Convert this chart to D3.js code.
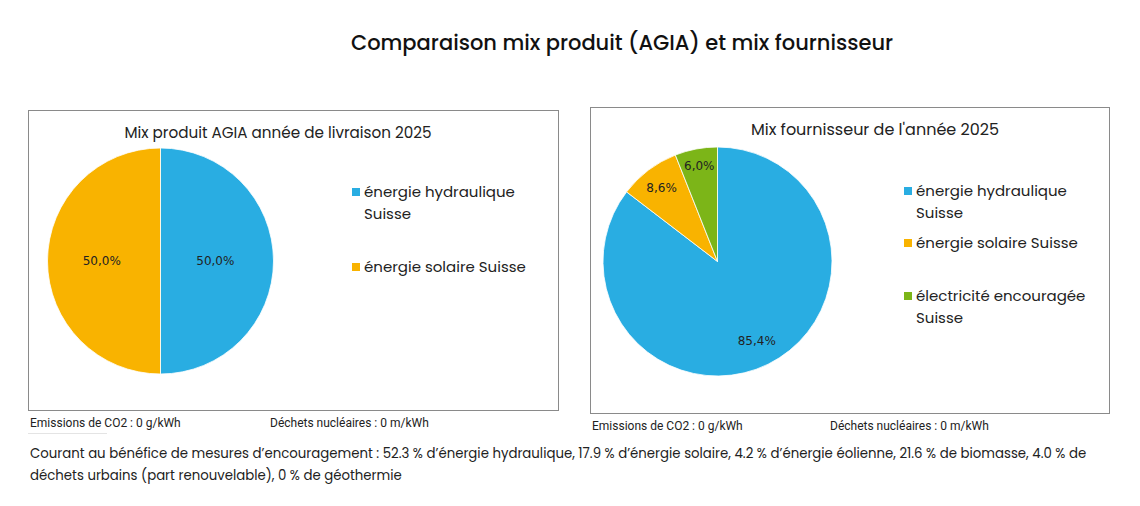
<!DOCTYPE html>
<html>
<head>
<meta charset="utf-8">
<script src="https://cdn.jsdelivr.net/npm/d3@7"></script>
<style>
  body { margin: 0; background: #fff; }
  svg { display: block; }
</style>
</head>
<body>
<svg width="1140" height="506"></svg>
<script>
// main data
const mainTitle = "Comparaison mix produit (AGIA) et mix fournisseur";

const productTitle = "Mix produit AGIA année de livraison 2025";
const productLabels = [["énergie hydraulique", "Suisse"], ["énergie solaire Suisse"]];
const productValues = [50.0, 50.0];

const supplierTitle = "Mix fournisseur de l'année 2025";
const supplierLabels = [["énergie hydraulique", "Suisse"], ["énergie solaire Suisse"], ["électricité encouragée", "Suisse"]];
const supplierValues = [85.4, 8.6, 6.0];

const co2Text = "Emissions de CO2 : 0 g/kWh";
const wasteText = "Déchets nucléaires : 0 m/kWh";
const footLines = [
  "Courant au bénéfice de mesures d’encouragement : 52.3 % d’énergie hydraulique, 17.9 % d’énergie solaire, 4.2 % d’énergie éolienne, 21.6 % de biomasse, 4.0 % de",
  "déchets urbains (part renouvelable), 0 % de géothermie"
];

const colors = ["#29ADE2", "#F9B300", "#7CB518"];
const uiFont = "Poppins, Inter, 'Noto Sans', sans-serif";
const labelFont = "'DejaVu Sans', Verdana, sans-serif";

const svg = d3.select("svg");

svg.append("text")
  .attr("x", 622).attr("y", 50)
  .attr("text-anchor", "middle")
  .attr("font-family", uiFont)
  .attr("font-weight", 500)
  .attr("font-size", "21px")
  .attr("fill", "#111")
  .text(mainTitle);

// one chart panel: box, title, pie, legend, notes under it
function drawPanel(opt) {
  const g = svg.append("g");

  g.append("rect")
    .attr("x", opt.box[0] + 0.5).attr("y", opt.box[1] + 0.5)
    .attr("width", opt.box[2]).attr("height", opt.box[3])
    .attr("fill", "#fff").attr("stroke", "#8a8a8a").attr("stroke-width", 1);

  g.append("text")
    .attr("x", opt.titleX).attr("y", opt.box[1] + 28)
    .attr("text-anchor", "middle")
    .attr("font-family", uiFont)
    .attr("font-size", opt.titleSize)
    .attr("fill", "#222")
    .text(opt.title);

  const pie = d3.pie().sort(null).value(d => d);
  const arcs = pie(opt.values);
  const arc = d3.arc().innerRadius(0).outerRadius(opt.r);

  const pg = g.append("g").attr("transform", `translate(${opt.cx},${opt.cy})`);
  pg.selectAll("path")
    .data(arcs).enter().append("path")
    .attr("d", arc)
    .attr("fill", (d, i) => colors[i])
    .attr("stroke", "#fff")
    .attr("stroke-width", 0.8);

  // data labels, pushed outward per slice like the office chart does
  pg.selectAll("text")
    .data(arcs).enter().append("text")
    .attr("transform", (d, i) => {
      const p = d3.arc().innerRadius(0).outerRadius(opt.r * opt.labelR[i]).centroid(d);
      return `translate(${p[0]},${p[1]})`;
    })
    .attr("text-anchor", "middle")
    .attr("dy", "0.35em")
    .attr("font-family", labelFont)
    .attr("font-size", "12px")
    .attr("fill", "#222")
    .text(d => d.value.toFixed(1).replace(".", ",") + "%");

  // legend
  const lg = g.append("g");
  opt.labels.forEach((lines, i) => {
    const y = opt.legendY[i];
    lg.append("rect")
      .attr("x", opt.legendX).attr("y", y - 9)
      .attr("width", 8).attr("height", 8)
      .attr("fill", colors[i]);
    lines.forEach((ln, j) => {
      lg.append("text")
        .attr("x", opt.legendX + 12).attr("y", y + j * 22)
        .attr("font-family", uiFont)
        .attr("font-size", "15px")
        .attr("fill", "#222")
        .text(ln);
    });
  });

  // notes
  g.append("text")
    .attr("x", opt.box[0] + 2).attr("y", opt.box[1] + opt.box[3] + 17)
    .attr("font-family", "Roboto, 'Open Sans', sans-serif")
    .attr("font-size", "12px")
    .attr("fill", "#222")
    .text(co2Text);
  g.append("text")
    .attr("x", opt.wasteX).attr("y", opt.box[1] + opt.box[3] + 17)
    .attr("font-family", "Roboto, 'Open Sans', sans-serif")
    .attr("font-size", "12px")
    .attr("fill", "#222")
    .text(wasteText);
}

drawPanel({
  box: [28, 110, 530, 300],
  title: productTitle, titleX: 278, titleSize: "15.2px",
  values: productValues, labels: productLabels,
  cx: 160.5, cy: 261, r: 113,
  labelR: [0.97, 1.04],
  legendX: 352, legendY: [197, 272],
  wasteX: 270
});

drawPanel({
  box: [590, 107, 519, 306],
  title: supplierTitle, titleX: 875, titleSize: "16px",
  values: supplierValues, labels: supplierLabels,
  cx: 717.5, cy: 261.5, r: 114.5,
  labelR: [1.55, 1.62, 1.7],
  legendX: 904, legendY: [196, 248, 301],
  wasteX: 830
});

// faint underline under the first note
svg.append("line")
  .attr("x1", 28).attr("x2", 107).attr("y1", 433.5).attr("y2", 433.5)
  .attr("stroke", "#e4e4e4").attr("stroke-width", 1);

svg.selectAll(".foot")
  .data(footLines).enter().append("text")
  .attr("class", "foot")
  .attr("x", 30).attr("y", (d, i) => 458 + i * 22)
  .attr("font-family", uiFont)
  .attr("font-size", "13.3px")
  .attr("fill", "#222")
  .text(d => d);
</script>
</body>
</html>
